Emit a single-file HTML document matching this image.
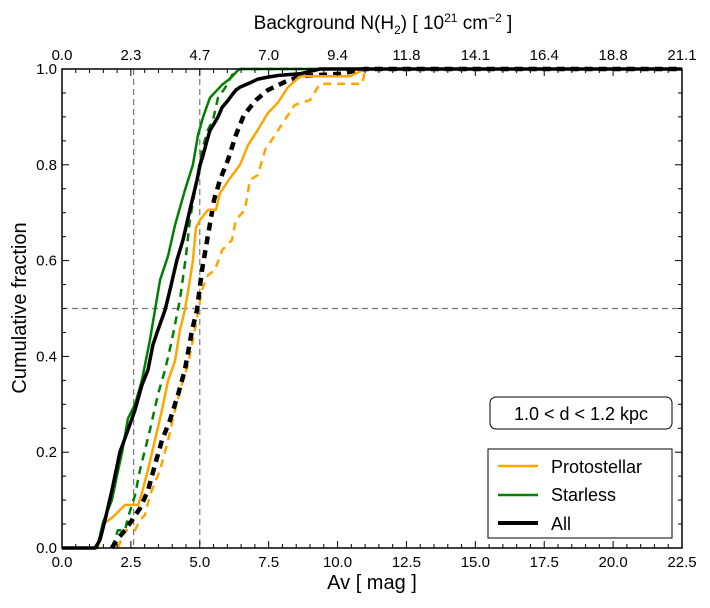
<!DOCTYPE html>
<html><head><meta charset="utf-8"><style>
body{margin:0;background:#fff;font-family:"Liberation Sans","DejaVu Sans",sans-serif;}
svg text{font-family:"Liberation Sans","DejaVu Sans",sans-serif;}
</style></head><body>
<svg id="chart" width="710" height="603" xmlns="http://www.w3.org/2000/svg"></svg>
<script>
const xTicks=[0,2.5,5,7.5,10,12.5,15,17.5,20,22.5];
const xTickLabels=["0.0","2.5","5.0","7.5","10.0","12.5","15.0","17.5","20.0","22.5"];
const topTickLabels=["0.0","2.3","4.7","7.0","9.4","11.8","14.1","16.4","18.8","21.1"];
const yTicks=[0,0.2,0.4,0.6,0.8,1.0];
const yTickLabels=["0.0","0.2","0.4","0.6","0.8","1.0"];
const allX=[0,1.2,1.38,1.56,1.81,2.10,2.39,2.65,2.90,3.12,3.30,3.48,3.74,3.92,4.17,4.39,4.64,4.90,5.01,5.12,5.26,5.37,5.52,5.66,5.81,6.02,6.17,6.31,6.46,6.82,7.11,7.47,7.91,8.64,9.36,22.5];
const allY=[0,0,0.017,0.058,0.12,0.20,0.246,0.288,0.34,0.372,0.424,0.455,0.497,0.539,0.601,0.643,0.706,0.768,0.80,0.82,0.85,0.872,0.886,0.90,0.92,0.934,0.946,0.956,0.962,0.971,0.979,0.983,0.987,0.99,1.0,1.0];
const starX=[0,1.27,1.49,1.81,2.03,2.18,2.39,2.65,2.9,3.19,3.56,3.85,4.1,4.46,4.75,4.93,5.12,5.37,5.81,6.1,6.39,6.5,22.5];
const starY=[0,0,0.054,0.1,0.16,0.2,0.27,0.30,0.35,0.434,0.56,0.61,0.674,0.747,0.80,0.86,0.90,0.94,0.967,0.98,0.998,1.0,1.0];
const protoX=[0,1.3,1.49,1.81,2.03,2.29,2.76,2.9,3.12,3.37,3.63,3.85,4.1,4.28,4.46,4.64,4.75,4.86,5.01,5.3,5.59,5.73,6.1,6.46,6.75,7.11,7.47,7.84,8.2,8.64,10.45,11.0,22.5];
const protoY=[0,0,0.05,0.063,0.075,0.09,0.09,0.115,0.163,0.225,0.288,0.35,0.39,0.455,0.497,0.56,0.6,0.668,0.685,0.706,0.706,0.741,0.772,0.80,0.841,0.873,0.908,0.93,0.962,0.985,0.985,1.0,1.0];
const starDX=[1.81,2.03,2.29,2.39,2.65,2.83,3.19,3.48,3.74,3.99,4.28,4.5,4.64,4.86,5.08,5.3,5.48,5.66,5.91,6.17,6.46,22.5];
const starDY=[0,0.037,0.037,0.063,0.11,0.163,0.246,0.32,0.372,0.434,0.518,0.61,0.685,0.758,0.831,0.873,0.894,0.94,0.96,0.987,1.0,1.0];
const allDX=[1.81,2.03,2.29,2.54,2.83,3.12,3.37,3.63,3.92,4.21,4.46,4.72,4.9,5.08,5.3,5.52,5.73,6.02,6.31,6.6,7.04,7.47,8.09,8.64,10.09,11,22.5];
const allDY=[0,0.02,0.037,0.058,0.083,0.12,0.173,0.225,0.267,0.32,0.372,0.455,0.497,0.58,0.653,0.727,0.768,0.81,0.862,0.904,0.935,0.956,0.973,0.985,0.99,1.0,1.0];
const protoDX=[2.03,2.29,2.65,2.83,3.01,3.19,3.56,3.85,4.1,4.39,4.57,4.82,5.08,5.3,5.55,5.81,6.17,6.31,6.64,6.82,7.11,7.37,7.73,8.09,8.45,9.0,9.36,10.9,11.0,22.5];
const protoDY=[0,0.037,0.037,0.058,0.069,0.11,0.163,0.225,0.288,0.35,0.382,0.455,0.539,0.57,0.58,0.622,0.643,0.685,0.706,0.768,0.779,0.831,0.862,0.894,0.925,0.935,0.969,0.969,1.0,1.0];

const L=62,R=682,T=69,B=548;
const sx=v=>L+(v/22.5)*(R-L);
const sy=v=>B-v*(B-T);
const svg=document.getElementById('chart');
const NS="http://www.w3.org/2000/svg";
function mk(tag,attrs,parent){const e=document.createElementNS(NS,tag);for(const k in attrs)e.setAttribute(k,attrs[k]);(parent||svg).appendChild(e);return e;}

let g=mk('g',{});


mk('line',{x1:sx(2.6),x2:sx(2.6),y1:T,y2:B,stroke:'#777','stroke-width':1.2,'stroke-dasharray':'6,4'},g);
mk('line',{x1:sx(5),x2:sx(5),y1:T,y2:B,stroke:'#777','stroke-width':1.2,'stroke-dasharray':'6,4'},g);
mk('line',{x1:L,x2:R,y1:sy(0.5),y2:sy(0.5),stroke:'#777','stroke-width':1.2,'stroke-dasharray':'6,4'},g);

function series(xs,ys,color,w,dash,name){
  let d='';xs.forEach((x,i)=>{d+=(i?'L':'M')+sx(x).toFixed(1)+','+sy(ys[i]).toFixed(1);});
  const p=mk('path',{d:d,fill:'none',stroke:color,'stroke-width':w,'stroke-linejoin':'round'});
  if(dash)p.setAttribute('stroke-dasharray',dash);
  
  
}
series(protoDX,protoDY,'orange',2.5,'8,6','protostellar-dashed-line');
series(starDX,starDY,'green',2.5,'8,6','starless-dashed-line');
series(allDX,allDY,'black',4.5,'8,6','all-dashed-line');
series(protoX,protoY,'orange',2.5,null,'protostellar-line');
series(starX,starY,'green',2.5,null,'starless-line');
series(allX,allY,'black',3.5,null,'all-line');

const fr=mk('rect',{x:L,y:T,width:R-L,height:B-T,fill:'none',stroke:'#000','stroke-width':1.5});



const tg=mk('g',{stroke:'#000','stroke-width':1});


for(let v=0;v<=22.5001;v+=0.5){const x=sx(v);const major=Math.abs(v/2.5-Math.round(v/2.5))<1e-6;const len=major?7:4;
  mk('line',{x1:x,x2:x,y1:B,y2:B-len},tg);mk('line',{x1:x,x2:x,y1:T,y2:T+len},tg);}
for(let v=0;v<=1.0001;v+=0.05){const y=sy(v);const major=Math.abs(v/0.2-Math.round(v/0.2))<1e-6;const len=major?7:4;
  mk('line',{x1:L,x2:L+len,y1:y,y2:y},tg);mk('line',{x1:R,x2:R-len,y1:y,y2:y},tg);}

xTicks.forEach((v,i)=>{
  const t=mk('text',{x:sx(v),y:B+19,'text-anchor':'middle','font-size':15});t.textContent=xTickLabels[i];
  
  const u=mk('text',{x:sx(v),y:T-9,'text-anchor':'middle','font-size':15});u.textContent=topTickLabels[i];
  
});
yTicks.forEach((v,i)=>{
  const t=mk('text',{x:L-5,y:sy(v)+5,'text-anchor':'end','font-size':15});t.textContent=yTickLabels[i];
  
});
</script>
<svg style="position:absolute;left:0;top:0" width="710" height="603" xmlns="http://www.w3.org/2000/svg">
<text x="372" y="589" text-anchor="middle" font-size="20">Av [ mag ]</text>
<text x="26" y="308" text-anchor="middle" font-size="20" transform="rotate(-90 26 308)">Cumulative fraction</text>
<text x="383" y="29" text-anchor="middle" font-size="19">Background N(H<tspan font-size="12" dy="5">2</tspan><tspan dy="-5">)  [ 10</tspan><tspan font-size="12" dy="-7">21</tspan><tspan dy="7">  cm</tspan><tspan font-size="12" dy="-7">−2</tspan><tspan dy="7">  ]</tspan></text>
<g>
<rect x="490" y="397" width="182" height="32" rx="6" fill="#fff" stroke="#000" stroke-width="1"/>
<text x="581" y="420" text-anchor="middle" font-size="18">1.0 &lt; d &lt; 1.2 kpc</text>
</g>
<g>
<rect x="488" y="449" width="184" height="89" fill="#fff" stroke="#000" stroke-width="1"/>
<line x1="498" x2="538" y1="466" y2="466" stroke="orange" stroke-width="2.5"/>
<text x="551" y="473" font-size="18">Protostellar</text>
<line x1="498" x2="538" y1="495" y2="495" stroke="green" stroke-width="2.5"/>
<text x="551" y="501" font-size="18">Starless</text>
<line x1="498" x2="538" y1="523" y2="523" stroke="black" stroke-width="4"/>
<text x="551" y="530" font-size="18">All</text>
</g>
</svg>
</body></html>
